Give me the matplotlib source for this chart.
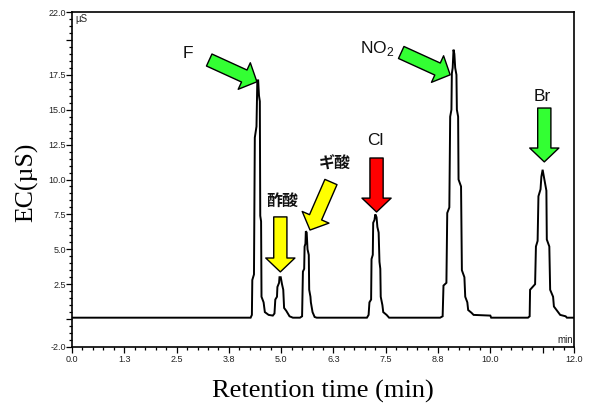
import matplotlib
matplotlib.use("Agg")
import matplotlib.pyplot as plt
from matplotlib.ticker import MultipleLocator, FixedLocator, FixedFormatter

# Ion chromatogram trace: retention time (min) and conductivity (µS)
time_min = [
    0.00, 4.27, 4.30, 4.31, 4.35, 4.37, 4.41, 4.43, 4.45, 4.47, 4.49, 4.50,
    4.52, 4.53, 4.58, 4.61, 4.70, 4.80, 4.84, 4.86, 4.90, 4.91, 4.95, 4.96,
    4.99, 5.02, 5.05, 5.07, 5.12, 5.20, 5.28,
    5.45, 5.50, 5.52, 5.55, 5.56, 5.58, 5.59, 5.61, 5.63, 5.66, 5.67, 5.70,
    5.71, 5.75, 5.80, 5.85,
    7.05, 7.09, 7.11, 7.15, 7.16, 7.19, 7.20, 7.23, 7.25, 7.28, 7.30, 7.33,
    7.35, 7.37, 7.38, 7.42, 7.44, 7.52, 7.58,
    8.80, 8.86, 8.88, 8.95, 8.97, 9.02, 9.04, 9.07, 9.08, 9.10, 9.12, 9.14,
    9.16, 9.19, 9.20, 9.23, 9.24, 9.30, 9.32, 9.38, 9.40, 9.45, 9.47, 9.55,
    9.60, 10.00, 10.02,
    10.90, 10.94, 10.95, 11.07, 11.09, 11.13, 11.15, 11.20, 11.22, 11.25,
    11.28, 11.31, 11.34, 11.35, 11.41, 11.43, 11.50, 11.52, 11.62, 11.67,
    11.80, 11.83, 12.00,
]
ec_us = [
    0.1, 0.1, 0.3, 2.8, 3.2, 13.0, 13.8, 17.1, 17.1, 16.0, 15.6, 7.4,
    7.0, 1.6, 1.2, 0.5, 0.3, 0.25, 0.4, 1.4, 1.6, 2.3, 2.6, 3.0,
    3.0, 2.5, 2.1, 0.8, 0.6, 0.2, 0.1,
    0.1, 0.2, 3.4, 3.6, 5.2, 5.4, 6.3, 6.2, 5.0, 4.6, 2.1, 1.6,
    1.2, 0.5, 0.15, 0.1,
    0.1, 0.3, 1.2, 1.4, 4.3, 4.6, 6.9, 7.1, 7.5, 7.3, 6.6, 6.2,
    4.1, 3.6, 1.6, 1.0, 0.5, 0.3, 0.1,
    0.1, 0.2, 2.4, 2.6, 7.6, 8.0, 14.5, 15.0, 17.6, 18.0, 19.3, 19.0,
    18.0, 17.5, 15.0, 14.5, 10.0, 9.5, 3.5, 3.0, 1.6, 1.2, 0.65, 0.45,
    0.3, 0.25, 0.1,
    0.1, 0.2, 2.1, 2.5, 5.2, 5.6, 8.8, 9.3, 10.2, 10.7,
    10.2, 9.7, 9.2, 5.7, 5.2, 2.1, 1.6, 0.9, 0.5, 0.3,
    0.2, 0.1, 0.1,
]

x_ticks = [0.0, 1.25, 2.5, 3.75, 5.0, 6.25, 7.5, 8.75, 10.0, 11.25, 12.0]
x_tick_labels = ["0.0", "1.3", "2.5", "3.8", "5.0", "6.3", "7.5", "8.8", "10.0", "", "12.0"]
y_ticks = [-2.0, 0.0, 2.5, 5.0, 7.5, 10.0, 12.5, 15.0, 17.5, 20.0, 22.0]
y_tick_labels = ["-2.0", "", "2.5", "5.0", "7.5", "10.0", "12.5", "15.0", "17.5", "", "22.0"]

plt.rcParams["mathtext.fontset"] = "custom"
plt.rcParams["mathtext.rm"] = "Liberation Sans"

SANS = ["Liberation Sans", "DejaVu Sans"]
SERIF = ["Liberation Serif", "DejaVu Serif"]
CJK = ["Noto Sans CJK JP", "DejaVu Sans"]

fig = plt.figure(figsize=(5.91, 4.08), dpi=100)
ax = fig.add_axes([72 / 591, 1 - 347 / 408, 502 / 591, 335 / 408])

ax.plot(time_min, ec_us, color="black", lw=1.4, solid_joinstyle="miter")

ax.set_xlim(0, 12)
ax.set_ylim(-2, 22)

ax.xaxis.set_major_locator(FixedLocator(x_ticks))
ax.xaxis.set_major_formatter(FixedFormatter(x_tick_labels))
ax.xaxis.set_minor_locator(MultipleLocator(0.25))
ax.yaxis.set_major_locator(FixedLocator(y_ticks))
ax.yaxis.set_major_formatter(FixedFormatter(y_tick_labels))
ax.yaxis.set_minor_locator(MultipleLocator(0.5))

ax.tick_params(which="major", direction="out", length=4.0, width=0.9,
               labelsize=6.5, colors="black")
ax.tick_params(which="minor", direction="out", length=2.0, width=0.9)
ax.tick_params(axis="y", which="major", pad=0.5)
ax.tick_params(axis="x", which="major", pad=1.5)
for lab in ax.get_xticklabels() + ax.get_yticklabels():
    lab.set_family(SANS)
    lab.set_color("#222222")

for side in ("left", "bottom", "top", "right"):
    ax.spines[side].set_linewidth(1.2)

ax.text(0.006, 0.995, "µS", transform=ax.transAxes, ha="left", va="top",
        fontsize=7, family=SANS, color="#222222")
ax.text(0.998, 0.006, "min", transform=ax.transAxes, ha="right", va="bottom",
        fontsize=7, family=SANS, color="#222222")

fig.text(27 / 591, 1 - 182 / 408, "EC(µS)", rotation=90, ha="center",
         va="center", fontsize=18.5, family=SERIF)
fig.text(323 / 591, 1 - 398 / 408, "Retention time (min)", ha="center",
         va="baseline", fontsize=19, family=SERIF)

# Peak identification arrows: (label, label position, tail, tip, colour, font)
GREEN = "#33ff33"
YELLOW = "#ffff00"
RED = "#ff0000"
arrow_style = "simple,head_length=10,head_width=21,tail_width=9.5"

annotations = [
    ("F", (2.77, 19.06), (3.28, 18.56), (4.42, 17.0), GREEN, SANS, "normal"),
    ("NO$_\\mathrm{2}$", (7.30, 19.35), (7.87, 19.10), (9.04, 17.5), GREEN, SANS, "normal"),
    ("Br", (11.23, 15.98), (11.29, 15.12), (11.29, 11.26), GREEN, SANS, "normal"),
    ("Cl", (7.24, 12.76), (7.28, 11.54), (7.28, 7.67), RED, SANS, "normal"),
    ("酢酸", (5.03, 8.50), (4.98, 7.32), (4.98, 3.38), YELLOW, CJK, "bold"),
    ("ギ酸", (6.29, 11.11), (6.19, 9.82), (5.69, 6.38), YELLOW, CJK, "bold"),
]

for label, lpos, tail, tip, color, fam, weight in annotations:
    ax.annotate("", xy=tip, xytext=tail,
                arrowprops=dict(arrowstyle=arrow_style, mutation_scale=1,
                                fc=color, ec="black", lw=1.0,
                                shrinkA=0, shrinkB=0))
    size = 11.5 if fam is CJK else 12.5
    ax.text(lpos[0], lpos[1], label, ha="center", va="center",
            fontsize=size, family=fam, weight=weight, color="#111111")

fig.savefig("out.png", dpi=100)
